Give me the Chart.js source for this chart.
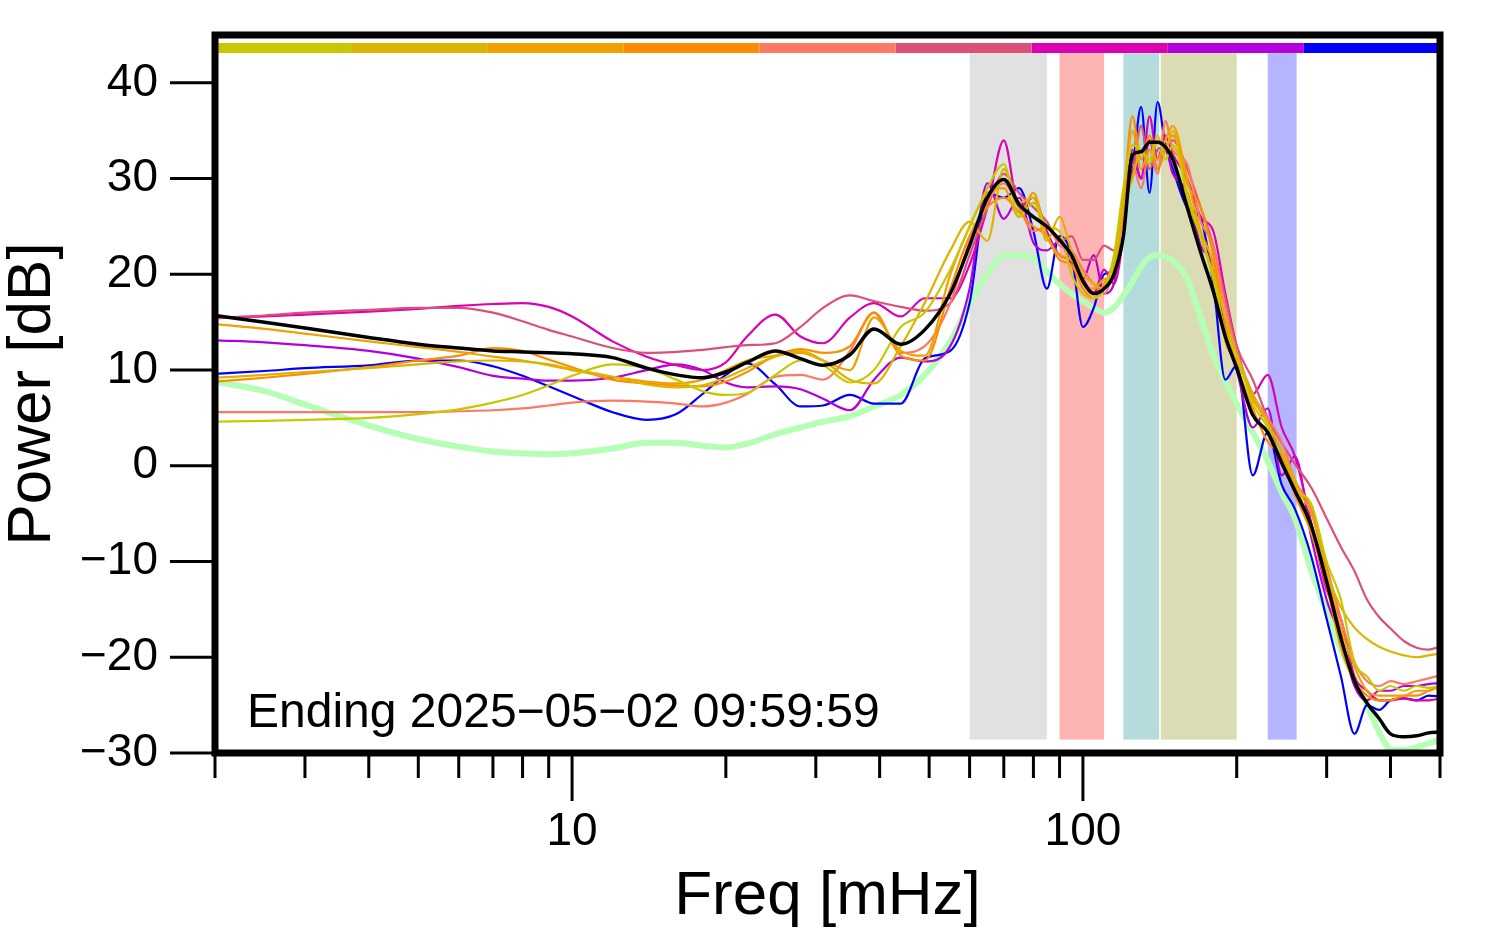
<!DOCTYPE html>
<html><head><meta charset="utf-8">
<script src="https://cdn.jsdelivr.net/npm/chart.js@4.4.1/dist/chart.umd.min.js"></script>
<style>html,body{margin:0;padding:0;background:#fff}canvas{display:block}</style>
</head><body>
<canvas id="c" width="1494" height="952"></canvas>
<script>
const freqs = [2,2.5,3,4,5,6,7,8,9,10,12,14,16,18,20,22,25,28,31,35,39,44,49,55,60,65,70,75,80,85,90,95,100,105,110,115,120,125,130,135,140,145,150,160,170,180,190,200,215,230,245,260,280,300,320,340,360,380,400,425,450,475,500];

const meanDb = [15.7,15.0,14.4,13.4,12.7,12.3,12.0,11.9,11.8,11.7,
 11.3,10.2,9.5,9.2,9.8,10.8,12.0,11.2,10.5,11.6,
 14.3,12.7,14.2,18.0,23.0,28.0,29.9,27.3,26.0,25.0,
 23.6,22.0,19.3,18.0,18.5,20.0,24.0,32.5,32.8,33.8,
 33.8,33.3,32.0,27.0,22.3,18.2,13.5,10.2,5.3,3.5,
 0.3,-2.6,-6.3,-12.1,-18.0,-22.5,-24.8,-26.4,-28.0,-28.3,
 -28.2,-27.9,-27.8];

const quietDb = [8.8,7.8,6.4,4.2,2.8,2.0,1.5,1.3,1.2,1.3,
 1.8,2.4,2.4,2.1,1.9,2.3,3.3,4.0,4.6,5.2,
 6.2,7.4,9.5,13.0,17.0,20.0,22.0,22.0,21.7,20.3,
 19.0,18.0,17.2,16.5,16.0,16.5,17.8,19.2,20.8,21.8,
 22.0,21.8,21.4,19.5,15.5,11.5,8.8,6.5,3.5,0.5,
 -2.8,-5.5,-11.0,-15.3,-19.2,-22.2,-25.0,-27.8,-29.6,-29.7,
 -29.4,-29.0,-28.6];

const day1 = [4.6,4.7,4.8,5.0,5.4,5.9,6.6,7.4,8.4,9.4,
 10.6,10.2,9.0,7.8,7.4,7.6,9.5,11.0,10.5,8.7,
 10.0,14.5,16.0,20.5,25.0,29.0,31.5,26.0,27.5,25.0,
 24.5,20.0,18.0,17.5,18.5,22.0,29.0,33.5,33.0,32.0,
 34.5,32.0,33.5,28.5,24.0,19.5,14.0,11.5,6.5,4.0,
 0.5,-2.5,-4.0,-10.0,-14.0,-20.5,-22.0,-23.5,-23.0,-23.5,
 -23.0,-23.2,-23.0];
const day2 = [9.2,9.5,9.8,10.2,10.6,10.9,11.0,10.9,10.6,10.1,
 9.3,8.5,8.2,8.4,9.2,10.2,11.4,12.0,11.0,9.0,
 8.6,12.5,17.0,22.5,25.5,23.5,31.0,27.5,28.0,23.5,
 26.0,22.5,20.0,19.0,18.5,21.0,27.0,30.0,33.0,31.5,
 34.0,33.0,35.0,28.0,24.0,20.0,15.5,11.5,7.5,4.5,
 1.5,-1.5,-6.8,-11.3,-14.8,-16.9,-18.1,-18.9,-19.4,-19.8,
 -20.0,-19.8,-19.6];
const day3 = [14.8,14.3,13.8,13.0,12.4,11.9,11.4,11.0,10.5,10.0,
 9.3,8.8,8.6,9.0,10.0,11.0,11.5,11.8,11.0,10.0,
 15.5,12.0,11.5,20.0,25.0,28.5,29.0,26.0,28.5,24.0,
 22.0,21.5,19.0,18.5,19.5,20.0,27.5,35.0,31.0,33.0,
 32.0,34.0,35.5,30.0,24.5,21.0,13.0,11.0,7.0,4.5,
 1.5,-2.0,-5.0,-11.0,-17.0,-21.0,-23.5,-24.0,-24.0,-24.0,
 -23.5,-23.5,-23.0];
const day4 = [8.8,9.2,9.6,10.3,11.0,11.5,12.3,12.0,11.1,10.3,
 9.0,8.6,8.4,8.3,8.8,9.8,11.5,12.2,11.8,12.5,
 16.0,11.5,11.0,18.5,24.0,27.0,28.0,26.5,25.0,24.0,
 21.5,21.0,18.5,17.5,19.0,21.5,28.0,36.5,32.0,34.5,
 31.0,33.0,34.5,29.5,27.0,22.0,15.0,10.5,6.0,2.5,
 1.0,-3.0,-7.0,-12.5,-19.0,-22.5,-24.0,-24.5,-24.5,-24.0,
 -24.0,-23.5,-23.0];
const day5 = [5.6,5.6,5.6,5.6,5.6,5.7,5.8,6.0,6.3,6.6,
 6.8,6.7,6.5,6.2,6.6,7.5,9.3,9.5,9.0,12.0,
 16.0,11.8,12.5,17.0,23.5,27.5,29.5,27.0,24.5,25.0,
 23.0,22.5,20.5,19.0,18.0,20.5,26.0,31.5,29.0,33.0,
 30.5,36.0,33.0,31.5,25.5,23.0,16.5,12.0,7.5,5.0,
 2.5,-1.5,-4.5,-10.5,-16.0,-20.5,-22.5,-23.0,-22.5,-22.8,
 -22.5,-22.2,-21.9];
const day6 = [15.4,15.7,16.0,16.3,16.5,16.5,16.0,15.1,14.2,13.5,
 12.3,11.8,11.9,12.1,12.4,12.6,12.8,14.5,16.5,17.8,
 17.2,16.6,16.2,17.0,22.0,27.0,30.5,28.5,27.0,25.5,
 23.5,24.0,21.5,21.5,23.0,22.5,26.5,30.5,35.5,31.0,
 33.0,33.5,34.0,31.0,27.0,23.0,17.5,12.5,9.0,5.0,
 2.4,0.2,-2.3,-5.5,-8.5,-11.0,-14.0,-15.8,-17.0,-18.3,
 -19.0,-19.2,-18.9];
const day7 = [15.5,15.6,15.8,16.1,16.4,16.7,16.9,17.0,16.6,15.6,
 13.0,11.4,10.5,10.0,10.8,13.5,15.8,13.5,12.8,15.5,
 17.0,15.6,17.5,17.5,21.0,27.0,34.0,27.0,28.0,24.5,
 22.0,21.5,19.5,18.0,20.5,19.0,24.0,33.0,30.0,36.5,
 32.0,34.5,32.5,30.0,26.0,24.5,18.0,12.5,7.5,9.5,
 4.0,1.0,-6.0,-13.0,-16.0,-22.0,-23.5,-24.5,-24.5,-24.3,
 -24.5,-24.5,-24.3];
const day8 = [13.1,12.9,12.6,12.0,11.2,10.3,9.4,9.1,8.9,8.9,
 9.2,10.0,10.6,10.0,8.7,8.2,8.3,8.0,7.0,5.8,
 9.0,11.3,10.9,12.5,18.5,29.5,25.8,28.0,23.3,22.5,
 23.5,21.0,19.5,22.0,18.0,19.0,28.0,32.0,30.0,34.0,
 31.0,33.0,30.5,28.5,23.0,21.0,14.0,10.0,4.0,6.0,
 -1.0,1.0,-7.5,-14.0,-18.0,-23.0,-24.5,-23.5,-23.5,-23.0,
 -23.0,-22.8,-22.7];
const day9 = [9.6,9.9,10.2,10.5,11.0,11.0,10.4,9.4,8.3,7.3,
 5.6,4.8,5.4,7.5,9.5,10.7,8.5,6.2,6.3,7.4,
 6.5,6.5,11.2,12.0,17.0,28.5,28.0,29.0,24.5,18.5,
 24.0,22.0,14.5,16.5,20.0,20.5,27.0,31.0,37.5,28.5,
 38.0,33.5,31.0,27.0,25.8,19.0,9.0,10.5,-1.0,3.5,
 -2.0,-4.5,-9.5,-16.0,-22.0,-28.0,-25.0,-25.5,-24.5,-24.3,
 -24.5,-24.0,-24.1];

const daySeries = [day1, day2, day3, day4, day5, day6, day7, day8, day9];
const dayColors = ['#c8c800','#dcb400','#f0a000','#ff8c00','#ff7864','#dc5078','#dc00b4','#b400dc','#0000ff'];

const barEdges = [2, 3.694, 6.821, 12.60, 23.27, 42.97, 79.36, 146.6, 270.7, 500];
const barLevel = 43.65;

const bandStarts = [60, 90, 120, 142, 230];
const bandEnds = [85, 110, 141, 200, 262];
const bandColors = ['#e1e1e1','#ffb4b4','#b4dcdc','#dcdcb4','#b4b4ff'];
const bandTop = 43.1, bandBottom = -28.6;

const xTickValues = [2,3,4,5,6,7,8,9,10,20,30,40,50,60,70,80,90,100,200,300,400,500];
const xLabelValues = [10,100];
const caption = 'Ending 2025\u221205\u221202 09:59:59';

const FONT = '"Liberation Sans", Arial, Helvetica, sans-serif';

const datasets = [];
datasets.push({label:'mean', data: freqs.map((f,i)=>({x:f,y:meanDb[i]})), borderColor:'#000', borderWidth:3.5, order:0});
daySeries.forEach((arr,k)=>{
  datasets.push({label:'d'+(k+1), data: freqs.map((f,i)=>({x:f,y:arr[i]})), borderColor: dayColors[k], borderWidth:2.2, order: 1+k});
});
datasets.push({label:'quiet', data: freqs.map((f,i)=>({x:f,y:quietDb[i]})), borderColor:'#b4ffb4', borderWidth:6, order:20});
for (let k=0;k<9;k++){
  datasets.push({label:'bar'+k, data:[{x:barEdges[k],y:barLevel},{x:barEdges[k+1],y:barLevel}], borderColor: dayColors[k], borderWidth:10, borderCapStyle:'butt', cubicInterpolationMode:'default', tension:0, order:30});
}

const decor = {
  id:'decor',
  beforeDatasetsDraw(chart){
    const {ctx, scales:{x,y}} = chart;
    ctx.save();
    for (let i=0;i<bandStarts.length;i++){
      const x0 = x.getPixelForValue(bandStarts[i]), x1 = x.getPixelForValue(bandEnds[i]);
      const y0 = y.getPixelForValue(bandTop), y1 = y.getPixelForValue(bandBottom);
      ctx.fillStyle = bandColors[i];
      ctx.fillRect(x0, y0, x1-x0, y1-y0);
    }
    ctx.restore();
  },
  afterDraw(chart){
    const {ctx, chartArea:a, scales:{x,y}} = chart;
    ctx.save();
    ctx.strokeStyle = '#000';
    ctx.lineWidth = 3;
    ctx.beginPath();
    y.ticks.forEach(t=>{
      const py = y.getPixelForValue(t.value);
      const len = (t.value % 10 === 0) ? 45 : 23;
      ctx.moveTo(a.left - len, py); ctx.lineTo(a.left, py);
    });
    x.ticks.forEach(t=>{
      const px = x.getPixelForValue(t.value);
      const len = xLabelValues.includes(t.value) ? 48 : 25;
      ctx.moveTo(px, a.bottom); ctx.lineTo(px, a.bottom + len);
    });
    ctx.stroke();
    ctx.lineWidth = 7;
    ctx.strokeRect(a.left, a.top, a.right - a.left, a.bottom - a.top);
    ctx.fillStyle = '#000';
    ctx.font = '48px ' + FONT;
    ctx.textBaseline = 'alphabetic';
    ctx.textAlign = 'left';
    ctx.fillText(caption, a.left + 32, a.bottom - 26);
    ctx.restore();
  }
};

Chart.defaults.font.family = FONT;
Chart.defaults.color = '#000';

new Chart(document.getElementById('c'), {
  type:'line',
  data:{datasets},
  options:{
    responsive:false, animation:false, devicePixelRatio:1,
    layout:{padding:{left:0,right:54,top:35,bottom:0}},
    elements:{point:{radius:0}, line:{cubicInterpolationMode:'monotone', borderJoinStyle:'round'}},
    plugins:{legend:{display:false}, tooltip:{enabled:false}},
    scales:{
      x:{type:'logarithmic', min:2, max:500,
        afterBuildTicks: s => { s.ticks = xTickValues.map(v=>({value:v})); },
        afterFit: s => { s.height = 199; s.paddingLeft = 0; s.paddingRight = 0; },
        grid:{display:false, drawTicks:false}, border:{display:false},
        ticks:{autoSkip:false, maxRotation:0, padding:52, font:{size:46},
          callback: v => xLabelValues.includes(v) ? String(v) : ''},
        title:{display:true, text:'Freq [mHz]', font:{size:62, lineHeight:1}, padding:{top:0,bottom:24}}
      },
      y:{type:'linear', min:-30, max:45,
        afterFit: s => { s.width = 215; s.paddingTop = 0; s.paddingBottom = 0; },
        grid:{display:false, drawTicks:false}, border:{display:false},
        ticks:{stepSize:5, padding:57, font:{size:46},
          callback: v => (v % 10 === 0) ? (v < 0 ? '\u2212' + Math.abs(v) : String(v)) : ''},
        title:{display:true, text:'Power [dB]', font:{size:62, lineHeight:1}, padding:{top:2,bottom:0}}
      }
    }
  },
  plugins:[decor]
});
</script>
</body></html>
